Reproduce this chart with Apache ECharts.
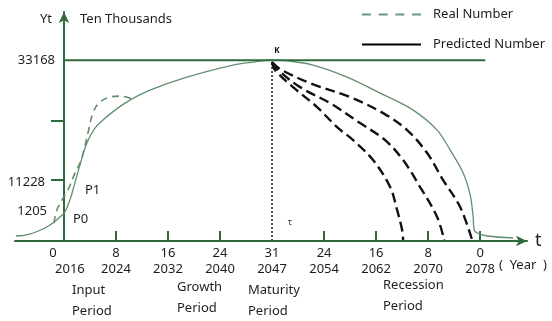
<!DOCTYPE html>
<html>
<head>
<meta charset="utf-8">
<script src="https://cdn.jsdelivr.net/npm/echarts@6/dist/echarts.min.js"></script>
<style>
html,body{margin:0;padding:0;background:#fff;}
#c{width:552px;height:321px;}
</style>
</head>
<body>
<div id="c"></div>
<script>
// ---- data ----
const xTickIndex = [0, 1, 2, 3, 4, 5, 6, 7, 8];
const xTickTop = ['0', '8', '16', '24', '31', '24', '16', '8', '0'];
const xTickYear = ['2016', '2024', '2032', '2040', '2047', '2054', '2062', '2070', '2078'];
const yLabelValues = [11228, 33168];
const yTickValues = [11228, 22000];
const plateauValue = 33168;
const maturityIndex = 4;

// life-cycle curve (thin solid)
const lifeCycle = [
  [-0.923, 916], [-0.654, 1283], [-0.365, 2382], [-0.212, 3299], [-0.077, 4398],
  [0.019, 5314], [0.115, 7513], [0.173, 9346], [0.308, 13927], [0.442, 17959],
  [0.596, 20707], [0.75, 22173], [0.981, 24006], [1.269, 25838], [1.654, 27671],
  [2.365, 30053], [3.25, 32252], [3.635, 32802], [4.0, 33168], [4.346, 32985],
  [4.788, 32252], [5.442, 30053], [6.077, 27121], [6.712, 24006], [7.173, 20341],
  [7.423, 16676], [7.673, 12461], [7.808, 8430], [7.865, 4398], [7.885, 2016],
  [7.942, 1466], [8.135, 916], [8.635, 550]
];
// real number (green dashed)
const realNumber = [
  [-0.192, 3299], [-0.135, 5681], [-0.038, 7513], [0.077, 9346], [0.212, 12461],
  [0.308, 14294], [0.385, 16676], [0.462, 19791], [0.558, 23456], [0.692, 25472],
  [0.885, 26388], [1.077, 26571], [1.327, 26022]
];
// predicted recession scenarios (black dashed)
const scenarioA = [
  [4.0, 32802], [4.058, 31336], [4.404, 28221], [4.865, 24556], [5.25, 20891],
  [5.558, 18508], [5.942, 14843], [6.269, 9896], [6.404, 5681], [6.5, 2016], [6.519, 183]
];
const scenarioB = [
  [4.0, 32802], [4.096, 31519], [4.538, 28221], [5.115, 25289], [5.692, 21624],
  [6.173, 18508], [6.519, 14843], [6.846, 9896], [7.173, 4398], [7.308, 183]
];
const scenarioC = [
  [4.0, 32802], [4.154, 31519], [4.731, 28954], [5.5, 26388], [6.135, 23456],
  [6.596, 20341], [6.981, 16126], [7.288, 11178], [7.615, 6231], [7.846, 183]
];
const plateauLine = [[0, plateauValue], [8.1, plateauValue]];
const maturityLine = [[maturityIndex, 0], [maturityIndex, plateauValue]];

// ---- chart ----
const FONT = 'Noto Sans';
const AX = '#2e6b3c';
const TXT = '#1e1e1e';
const chart = echarts.init(document.getElementById('c'), null, {renderer: 'canvas'});

function txt(text, x, y) {
  return {type: 'text', x: x, y: y,
    style: {text: text, fill: TXT, font: '13px ' + FONT, textVerticalAlign: 'middle'}};
}

const blackDash = {color: '#111', width: 2.4, type: [10, 5]};
const dashIcon = 'path://M0,0H8V2H0Z M15,0H23V2H15Z M30,0H38V2H30Z M45,0H53V2H45Z';
const solidIcon = 'path://M0,0H60V2H0Z';

const option = {
  animation: false,
  backgroundColor: '#fff',
  textStyle: {fontFamily: FONT},
  grid: {left: 15, right: 25, top: 12, bottom: 80, containLabel: false, outerBoundsMode: 'none'},
  legend: {
    orient: 'vertical', left: 357, top: 3, itemWidth: 59, itemHeight: 2.4, itemGap: 17,
    textStyle: {fontFamily: FONT, fontSize: 13, color: TXT, padding: [0, 0, 0, 7]},
    data: [
      {name: 'Real Number', icon: dashIcon, itemStyle: {color: '#6a9878'}},
      {name: 'Predicted Number', icon: solidIcon, itemStyle: {color: '#000'}}
    ]
  },
  xAxis: {
    type: 'value', min: -0.94, max: 8.9,
    name: 't', nameLocation: 'end', nameGap: 8,
    nameTextStyle: {fontSize: 18, color: TXT, fontFamily: FONT, verticalAlign: 'middle', padding: [0, 0, 4, 0]},
    splitLine: {show: false},
    axisLine: {onZero: true, lineStyle: {color: AX, width: 2}, symbol: ['none', 'arrow'], symbolSize: [8, 11]},
    axisTick: {show: true, inside: true, length: 10, lineStyle: {color: AX, width: 2}, customValues: [1, 2, 3, 5, 6, 7, 8]},
    axisLabel: {
      customValues: xTickIndex, margin: 4, color: TXT, fontSize: 13,
      formatter: function (v) {
        const i = Math.round(v);
        if (i === 0) return '{l|' + xTickTop[i] + '}\n{r|' + xTickYear[i] + '}';
        return '{t|' + xTickTop[i] + '}\n{t|' + xTickYear[i] + '}';
      },
      rich: {
        t: {fontSize: 13, lineHeight: 16, color: TXT, fontFamily: FONT},
        l: {fontSize: 13, lineHeight: 16, color: TXT, fontFamily: FONT, padding: [0, 22, 0, 0]},
        r: {fontSize: 13, lineHeight: 16, color: TXT, fontFamily: FONT, padding: [0, 0, 0, 12]}
      }
    }
  },
  yAxis: {
    type: 'value', min: 0, max: 42000, offset: -49,
    splitLine: {show: false},
    axisLine: {show: true, onZero: false, lineStyle: {color: AX, width: 2}, symbol: ['none', 'arrow'], symbolSize: [8, 11]},
    axisTick: {show: true, inside: false, length: 13, lineStyle: {color: AX, width: 2}, customValues: yTickValues},
    axisLabel: {
      customValues: yLabelValues, margin: 9, color: TXT, fontSize: 13,
      formatter: function (v) { return v === yLabelValues[0] ? '{s|' + v + '}' : '{n|' + v + '}'; },
      rich: {
        s: {fontSize: 13, color: TXT, fontFamily: FONT, padding: [6, 10, 0, 0]},
        n: {fontSize: 13, color: TXT, fontFamily: FONT}
      }
    }
  },
  series: [
    {name: 'plateau', type: 'line', data: plateauLine, symbol: 'none', silent: true,
      lineStyle: {color: AX, width: 2}, z: 3},
    {name: 'maturity', type: 'line', data: maturityLine, symbol: 'none', silent: true,
      lineStyle: {color: AX, width: 2, type: [2, 2]}, z: 3},
    {name: 'Life Cycle', type: 'line', data: lifeCycle, symbol: 'none', smooth: 0.35,
      lineStyle: {color: '#628f70', width: 1.3}, z: 2},
    {name: 'Real Number', type: 'line', data: realNumber, symbol: 'none', smooth: 0.4,
      itemStyle: {color: '#5f8d6d'},
      lineStyle: {color: '#5f8d6d', width: 1.6, type: [7, 5]}, z: 4},
    {name: 'Predicted Number', type: 'line', data: scenarioA, symbol: 'none', smooth: 0.35,
      itemStyle: {color: '#111'}, lineStyle: blackDash, z: 4},
    {name: 'Predicted Number', type: 'line', data: scenarioB, symbol: 'none', smooth: 0.35,
      itemStyle: {color: '#111'}, lineStyle: blackDash, z: 4},
    {name: 'Predicted Number', type: 'line', data: scenarioC, symbol: 'none', smooth: 0.35,
      itemStyle: {color: '#111'}, lineStyle: blackDash, z: 4}
  ],
  graphic: [
    txt('Yt', 40, 19),
    txt('Ten Thousands', 80, 19),
    {type: 'text', x: 47, y: 211, style: {text: '1205', fill: TXT, font: '13px ' + FONT, textAlign: 'right', textVerticalAlign: 'middle'}},
    txt('P1', 85, 190),
    txt('P0', 73, 219),
    {type: 'text', x: 277, y: 51, style: {text: 'K', fill: '#111', font: 'bold 8px ' + FONT, textAlign: 'center', textVerticalAlign: 'middle'}},
    {type: 'text', x: 290, y: 222, style: {text: 'τ', fill: '#333', font: '9px ' + FONT, textAlign: 'center', textVerticalAlign: 'middle'}},
    txt('(  Year  )', 499, 265),
    txt('Input', 72, 290),
    txt('Period', 72, 311),
    txt('Growth', 177, 287),
    txt('Period', 177, 308),
    txt('Maturity', 248, 290),
    txt('Period', 248, 311),
    txt('Recession', 383, 285),
    txt('Period', 383, 306)
  ]
};
chart.setOption(option);
</script>
</body>
</html>
